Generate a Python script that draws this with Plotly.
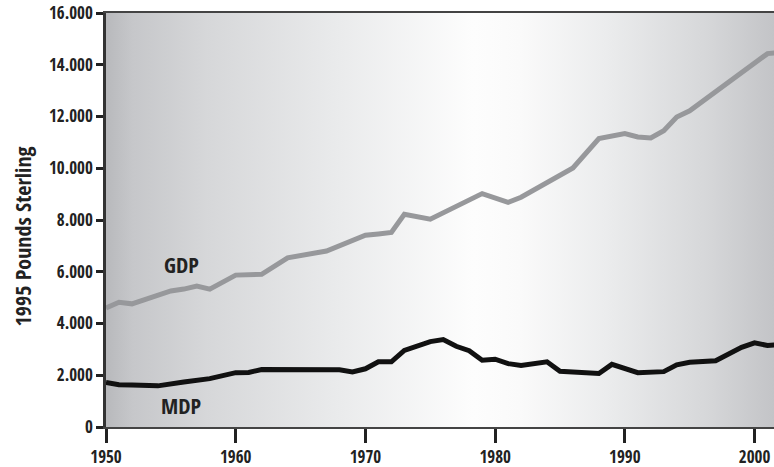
import plotly.graph_objects as go

# ---- data ----
gdp_years = [1950, 1951, 1952, 1955, 1956, 1957, 1958, 1960, 1962, 1964, 1967, 1970, 1971, 1972,
             1973, 1975, 1979, 1981, 1982, 1986, 1988, 1990, 1991, 1992, 1993, 1994, 1995,
             1998, 2001, 2002]
gdp_values = [4600, 4820, 4760, 5260, 5330, 5450, 5330, 5870, 5900, 6540, 6800, 7410, 7460, 7520,
              8220, 8030, 9020, 8680, 8880, 10010, 11150, 11340, 11210, 11170, 11450, 11980, 12220,
              13300, 14430, 14470]

mdp_years = [1950, 1951, 1952, 1953, 1954, 1956, 1958, 1960, 1961, 1962, 1968, 1969, 1970, 1971,
             1972, 1973, 1974, 1975, 1976, 1977, 1978, 1979, 1980, 1981, 1982, 1983, 1984, 1985,
             1988, 1989, 1991, 1993, 1994, 1995, 1997, 1999, 2000, 2001, 2002]
mdp_values = [1720, 1630, 1620, 1600, 1590, 1740, 1870, 2100, 2110, 2220, 2210, 2130, 2250, 2520,
              2520, 2960, 3110, 3300, 3380, 3120, 2950, 2580, 2620, 2450, 2380, 2430, 2520, 2150,
              2070, 2420, 2100, 2140, 2400, 2500, 2560, 3080, 3250, 3150, 3180]

y_tickvals = [0, 2000, 4000, 6000, 8000, 10000, 12000, 14000, 16000]
y_ticktext = ["0", "2.000", "4.000", "6.000", "8.000", "10.000", "12.000", "14.000", "16.000"]
x_tickvals = [1950, 1960, 1970, 1980, 1990, 2000]
x_ticktext = ["1950", "1960", "1970", "1980", "1990", "2000"]

x_range = [1950, 2001.5]
y_range = [0, 16000]

FONT = "Open Sans Condensed, Roboto Condensed, sans-serif"

fig = go.Figure()

# gradient background spanning the axis range
fig.add_trace(go.Scatter(
    x=[x_range[0], x_range[1], x_range[1], x_range[0], x_range[0]],
    y=[y_range[0], y_range[0], y_range[1], y_range[1], y_range[0]],
    mode="none", fill="toself",
    fillgradient=dict(type="horizontal", colorscale=[
        [0.0, "#b8b9bc"], [0.04, "#c6c7ca"], [0.15, "#d6d7d9"], [0.35, "#eaebec"],
        [0.55, "#fdfdfd"], [0.62, "#fafafa"], [0.75, "#ebeced"], [0.9, "#d6d7d9"],
        [1.0, "#c3c4c7"]]),
    hoverinfo="skip", showlegend=False))

fig.add_trace(go.Scatter(x=gdp_years, y=gdp_values, mode="lines",
                         line=dict(color="#97989b", width=5), name="GDP", showlegend=False))
fig.add_trace(go.Scatter(x=mdp_years, y=mdp_values, mode="lines",
                         line=dict(color="#111111", width=5), name="MDP", showlegend=False))

fig.add_annotation(x=1955.8, y=6300, text="<b>GDP</b>", showarrow=False,
                   font=dict(family=FONT, size=22, color="#222"))
fig.add_annotation(x=1955.8, y=850, text="<b>MDP</b>", showarrow=False,
                   font=dict(family=FONT, size=22, color="#222"))

# y-axis title
fig.add_annotation(xref="paper", yref="paper", x=-0.126, y=0.46, textangle=-90,
                   xanchor="center", yanchor="middle",
                   text="<b>1995 Pounds Sterling</b>", showarrow=False,
                   font=dict(family=FONT, size=22, color="#222"))

fig.update_layout(
    width=774, height=467,
    margin=dict(l=106, r=0, t=13, b=40),
    paper_bgcolor="white", plot_bgcolor="white",
    font=dict(family=FONT, color="#222"),
    xaxis=dict(range=x_range, tickvals=x_tickvals, ticktext=x_ticktext,
               ticks="outside", ticklen=14, tickwidth=3, tickcolor="#222",
               showline=True, linecolor="#444", linewidth=1.5, mirror=True,
               showgrid=False, zeroline=False, automargin=False,
               tickfont=dict(family=FONT, size=17, color="#222", weight="bold")),
    yaxis=dict(range=y_range, tickvals=y_tickvals, ticktext=y_ticktext,
               ticks="outside", ticklen=7, tickwidth=3, tickcolor="#222",
               showline=True, linecolor="#333", linewidth=2.5,
               showgrid=False, zeroline=False, automargin=False,
               tickfont=dict(family=FONT, size=17, color="#222", weight="bold")),
)

fig.write_html("out.html", config={"displayModeBar": False},
               post_script="document.body.style.margin='0';document.body.style.overflow='hidden';")
